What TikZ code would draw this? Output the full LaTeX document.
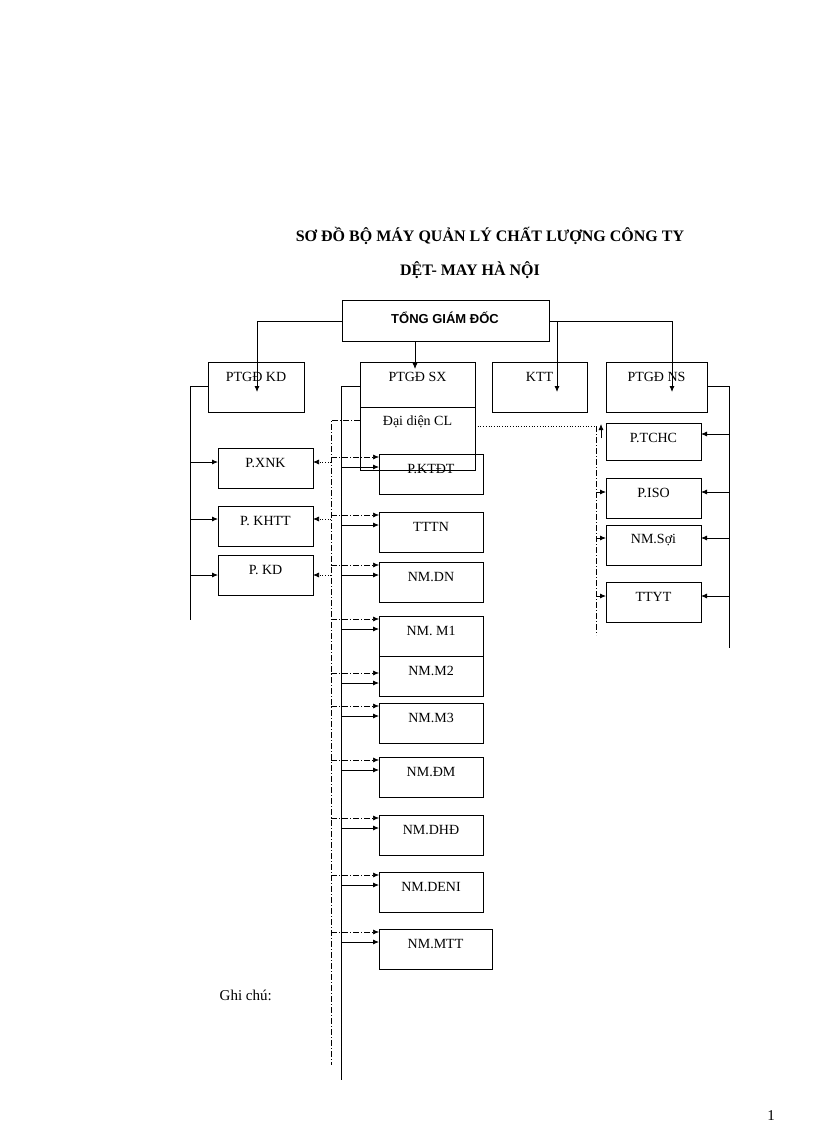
\documentclass[tikz,border=0pt]{standalone}
\usepackage{fontspec}
\setmainfont{Liberation Serif}
\newfontfamily\arialf{Liberation Sans}
\usetikzlibrary{arrows.meta}
\begin{document}
\begin{tikzpicture}[x=1pt,y=-1pt,line width=0.8pt,
  bx/.style={draw,anchor=north west,inner sep=0pt},
  lbl/.style={font=\fontsize{14}{14}\selectfont,anchor=center},
  ar/.style={-{Latex[length=6pt,width=5pt]}},
  dd/.style={dash pattern=on 6pt off 2pt on 1pt off 2pt,line width=0.6pt},
  dt/.style={dotted,line width=0.7pt}]
\useasboundingbox (0,0) rectangle (816,1123);
\node[font=\bfseries\fontsize{16}{16}\selectfont] (t1) at (490,236) {SƠ ĐỒ BỘ MÁY QUẢN LÝ CHẤT LƯỢNG CÔNG TY};
\node[font=\bfseries\fontsize{16}{16}\selectfont] (t2) at (470,270) {DỆT- MAY HÀ NỘI};
% boxes
\newcommand\bxx[6]{\node[bx,minimum width=#4pt,minimum height=#5pt] (#1) at (#2,#3) {};
  \node[lbl] (#1t) at ($(#2,#3)+(#4/2,#6)$) {};}
\node[bx,minimum width=207pt,minimum height=41pt] (tgd) at (342,300) {};
\node[font=\arialf\bfseries\fontsize{13}{13}\selectfont] (tgdt) at (445,318) {TỔNG GIÁM ĐỐC};
\foreach \n/\x/\y/\w/\h/\t in {kd/208/362/96/50/PTGĐ KD, sx/360/362/115/45/PTGĐ SX, ktt/492/362/95/50/KTT, ns/606/362/101/50/PTGĐ NS,
  cl/360/407/115/63/Đại diện CL,
  xnk/218/448/95/40/P.XNK, khtt/218/506/95/40/P. KHTT, pkd/218/555/95/40/P. KD,
  ktdt/379/454/104/40/P.KTĐT, tttn/379/512/104/40/TTTN, dn/379/562/104/40/NM.DN, m1/379/616/104/40/NM. M1,
  m2/379/656/104/40/NM.M2, m3/379/703/104/40/NM.M3, dm/379/757/104/40/NM.ĐM, dhd/379/815/104/40/NM.DHĐ,
  deni/379/872/104/40/NM.DENI, mtt/379/929/113/40/NM.MTT,
  tchc/606/423/95/37/P.TCHC, iso/606/478/95/40/P.ISO, soi/606/525/95/40/NM.Sợi, ttyt/606/582/95/40/TTYT}
{
  \node[bx,minimum width=\w pt,minimum height=\h pt] (\n) at (\x,\y) {};
  \node[lbl] (\n t) at (\x+\w/2,\y+15) {\t};
}
% top connectors
\coordinate (a1) at (342,321); \coordinate (a2) at (257,321); \coordinate (a3) at (257,392);
\draw[ar] (a1) -- (a2) -- (a3);
\coordinate (b1) at (415,341); \coordinate (b2) at (415,369);
\draw[ar] (b1) -- (b2);
\coordinate (c1) at (549,321); \coordinate (c2) at (672,321); \coordinate (c3) at (672,392);
\draw[ar] (c1) -- (c2) -- (c3);
\coordinate (d1) at (557,321); \coordinate (d2) at (557,392);
\draw[ar] (d1) -- (d2);
% left bus
\coordinate (l0) at (208,386); \coordinate (l1) at (190,386); \coordinate (l2) at (190,620);
\draw (l0) -- (l1) -- (l2);
\foreach \n/\y in {xnk/462,khtt/519,pkd/575}{
  \coordinate (l\n) at (190,\y); \coordinate (e\n) at (218,\y);
  \draw[ar] (l\n) -- (e\n);
  \coordinate (q\n) at (331,\y); \coordinate (f\n) at (313,\y);
  \draw[dt,ar] (q\n) -- (f\n);
}
% middle buses
\coordinate (m0) at (360,386); \coordinate (m1a) at (341,386); \coordinate (m2a) at (341,1080);
\draw (m0) -- (m1a) -- (m2a);
\coordinate (n0) at (360,420); \coordinate (n1) at (331,420); \coordinate (n2) at (331,1065);
\draw[dd] (n0) -- (n1) -- (n2);
\foreach \n/\y in {ktdt/454,tttn/512,dn/562,m1/616,m2/670,m3/703,dm/757,dhd/815,deni/872,mtt/929}{
  \coordinate (p\n) at (331,\y+3); \coordinate (g\n) at (379,\y+3);
  \draw[dd,ar] (p\n) -- (g\n);
  \coordinate (s\n) at (341,\y+13); \coordinate (h\n) at (379,\y+13);
  \draw[ar] (s\n) -- (h\n);
}
% right bus
\coordinate (r0) at (707,386); \coordinate (r1) at (729,386); \coordinate (r2) at (729,648);
\draw (r0) -- (r1) -- (r2);
\foreach \n/\y in {tchc/434,iso/492,soi/538,ttyt/596}{
  \coordinate (rr\n) at (729,\y); \coordinate (re\n) at (701,\y);
  \draw[ar] (rr\n) -- (re\n);
}
\coordinate (u0) at (475,426); \coordinate (u1) at (596,426); \coordinate (u2) at (596,635);
\draw[dt] (u0) -- (u1);
\draw[dd] (u1) -- (u2);
\coordinate (ua) at (601,438); \coordinate (ub) at (601,424);
\draw[ar] (ua) -- (ub);
\foreach \n/\y in {iso/492,soi/538,ttyt/596}{
  \coordinate (v\n) at (596,\y); \coordinate (w\n) at (606,\y);
  \draw[ar] (v\n) -- (w\n);
}
\node[font=\fontsize{15}{15}\selectfont,anchor=west] (gc) at (216,995) {Ghi chú:};
\node[font=\fontsize{15}{15}\selectfont] (pg) at (771,1116) {1};
\end{tikzpicture}
\end{document}
